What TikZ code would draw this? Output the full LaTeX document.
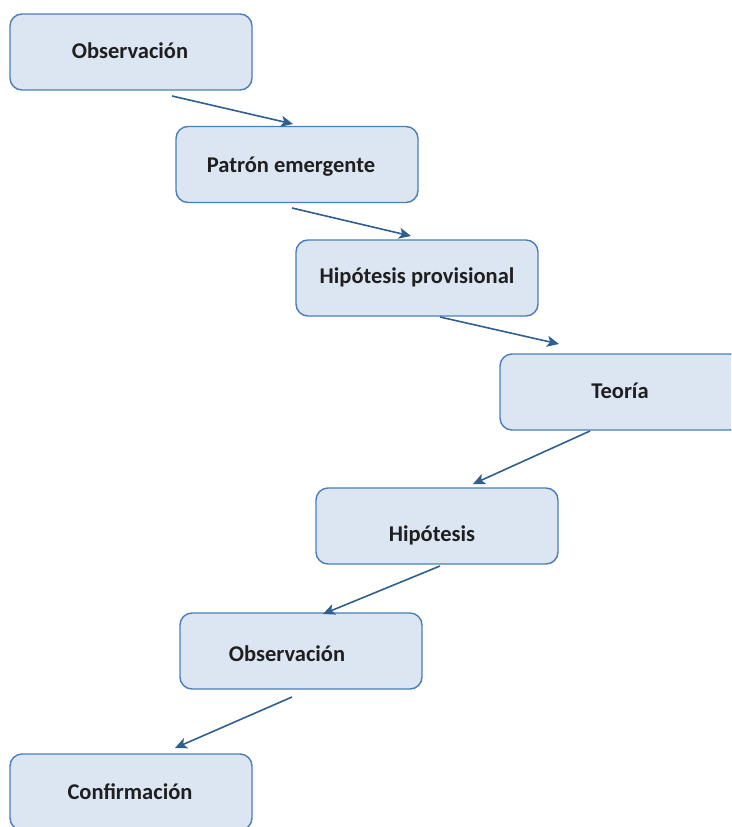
\documentclass[tikz,border=0pt]{standalone}
\usepackage{fontspec}
\setmainfont{Carlito}
\usetikzlibrary{arrows.meta}
\definecolor{boxfill}{HTML}{DCE6F2}
\definecolor{boxline}{HTML}{4A7EBB}
\definecolor{arrowcol}{HTML}{2F5F8F}
\begin{document}
\begin{tikzpicture}[x=1pt,y=-1pt,
  stepbox/.style={draw=boxline, fill=boxfill, line width=1.4pt, rounded corners=12pt,
    minimum width=242pt, minimum height=76pt, inner sep=0pt},
  lbl/.style={font=\fontsize{22.5}{27}\selectfont\bfseries, text=black!88},
  conn/.style={draw=arrowcol, line width=1.6pt, -{Stealth[length=12pt,width=11pt,inset=3pt]}}]
\useasboundingbox (0,0) rectangle (731,827);
\clip (0,0) rectangle (731,827);
% boxes
\node[stepbox] (b1) at (131,52) {};
\node[stepbox] (b2) at (297,164.5) {};
\node[stepbox] (b3) at (417,278) {};
\node[stepbox] (b4) at (621,392) {};
\node[stepbox] (b5) at (437,526) {};
\node[stepbox] (b6) at (301,651) {};
\node[stepbox] (b7) at (131,792) {};
% labels
\node[lbl] (t1) at (130,51) {Observación};
\node[lbl] (t2) at (291,167) {Patrón emergente};
\node[lbl] (t3) at (417,277) {Hipótesis provisional};
\node[lbl] (t4) at (620,391) {Teoría};
\node[lbl] (t5) at (432,535) {Hipótesis};
\node[lbl] (t6) at (287,654) {Observación};
\node[lbl] (t7) at (130,792) {Confirmación};
% arrow endpoints
\coordinate (s1) at (172,96);  \coordinate (e1) at (293,124);
\coordinate (s2) at (292,208); \coordinate (e2) at (411,236);
\coordinate (s3) at (440,317); \coordinate (e3) at (559,344);
\coordinate (s4) at (590,431); \coordinate (e4) at (473,484);
\coordinate (s5) at (440,566); \coordinate (e5) at (323,614);
\coordinate (s6) at (292,697); \coordinate (e6) at (175,748);
\draw[conn] (s1) -- (e1);
\draw[conn] (s2) -- (e2);
\draw[conn] (s3) -- (e3);
\draw[conn] (s4) -- (e4);
\draw[conn] (s5) -- (e5);
\draw[conn] (s6) -- (e6);
\end{tikzpicture}
\end{document}
